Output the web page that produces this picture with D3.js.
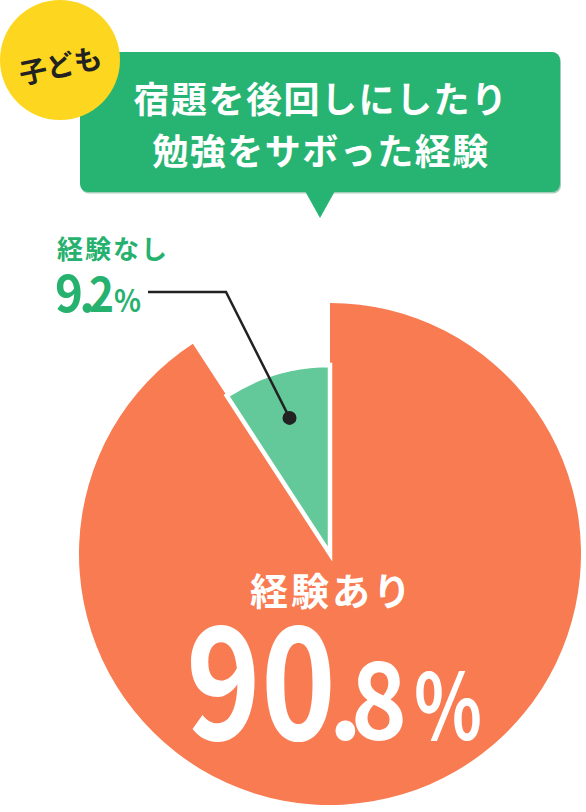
<!DOCTYPE html>
<html>

<head>
    <meta charset="utf-8">
    <style>
        body {
            margin: 0;
            background: #fff;
        }

        svg {
            display: block;
            font-family: 'Noto Sans CJK JP', 'Noto Sans', sans-serif;
            font-weight: 700;
        }
    </style>
</head>

<body>
    <svg width="586" height="812"></svg>
</body>

<script src="https://d3js.org/d3.v7.min.js"></script>

<script>
    // chart values
    let categories = ["経験あり", "経験なし"]
    let values = [90.8, 9.2]
    let valueLabels = ["90.8", "9.2"]
    let titleLines = ["宿題を後回しにしたり", "勉強をサボった経験"]
    let badgeText = "子ども"

    let width = 586
    let height = 812

    let svg = d3.select("svg")

    let cx = 330, cy = 554

    let colors = d3.scaleOrdinal()
        .domain(categories)
        .range(["#F87B52", "#63C99A"])

    // the "yes" slice is drawn bigger than the "no" slice
    let radius = d3.scaleOrdinal()
        .domain(categories)
        .range([251, 189])

    let pie = d3.pie()
        .sort(null)
        .value(d => d.value)

    let data = categories.map((c, i) => ({ name: c, value: values[i], label: valueLabels[i] }))
    let arcs = pie(data)

    let arc = d3.arc()
        .innerRadius(0)
        .outerRadius(d => radius(d.data.name))

    let pieG = svg.append("g")
        .attr("transform", `translate(${cx},${cy})`)

    pieG.selectAll("path")
        .data(arcs)
        .join("path")
        .attr("d", arc)
        .style("fill", d => colors(d.data.name))
        .style("stroke", (d, i) => i == 1 ? "#fff" : "none")
        .style("stroke-width", "4.5px")
        .style("stroke-linejoin", "miter")

    // title box with speech tail
    let box = { x: 80, y: 52, w: 480, h: 140 }

    svg.append("rect")
        .attr("x", box.x + 1)
        .attr("y", box.y + 1.5)
        .attr("width", box.w)
        .attr("height", box.h)
        .attr("rx", 8)
        .style("fill", "#4E9E78")
        .style("opacity", .5)

    svg.append("rect")
        .attr("x", box.x)
        .attr("y", box.y)
        .attr("width", box.w)
        .attr("height", box.h)
        .attr("rx", 8)
        .style("fill", "#27B473")

    svg.append("path")
        .attr("d", `M305,${box.y + box.h - 1} L335,${box.y + box.h - 1} L320,218 Z`)
        .style("fill", "#27B473")

    svg.append("g")
        .selectAll("text")
        .data(titleLines)
        .join("text")
        .attr("x", 321)
        .attr("y", (d, i) => 97 + i * 52)
        .attr("text-anchor", "middle")
        .attr("dominant-baseline", "central")
        .style("fill", "#fff")
        .style("font-size", "36px")
        .style("letter-spacing", "1.5px")
        .text(d => d)

    // badge
    svg.append("circle")
        .attr("cx", 60)
        .attr("cy", 60)
        .attr("r", 60)
        .style("fill", "#FDD61F")

    svg.append("text")
        .attr("transform", "translate(60,64) rotate(-12)")
        .attr("text-anchor", "middle")
        .attr("dominant-baseline", "central")
        .style("fill", "#222")
        .style("font-size", "28px")
        .text(badgeText)

    // a piece of a number label, fitted into a given width (no width = natural)
    function piece(txt, x, y, size, w, color) {
        let t = svg.append("text")
            .attr("x", x)
            .attr("y", y)
            .style("fill", color)
            .style("font-size", size + "px")
            .text(txt)
        if (w) {
            t.attr("textLength", w)
                .attr("lengthAdjust", "spacingAndGlyphs")
        }
    }

    // label inside big slice
    let yes = arcs[0]

    svg.append("text")
        .attr("x", 332)
        .attr("y", 588)
        .attr("text-anchor", "middle")
        .attr("dominant-baseline", "central")
        .style("fill", "#fff")
        .style("font-size", "38px")
        .style("letter-spacing", "3px")
        .text(yes.data.name)

    let bigParts = yes.data.label.split(".")
    piece(bigParts[0], 186, 740, 156, 150, "#fff")
    piece(".", 328, 740, 107, null, "#fff")
    piece(bigParts[1], 351, 740, 107, 56, "#fff")
    piece("%", 414, 740, 92, 68, "#fff")

    // small slice label + leader line
    let no = arcs[1]
    let dot = d3.arc().innerRadius(142).outerRadius(142).centroid(no)
    let dotX = cx + dot[0], dotY = cy + dot[1]

    svg.append("path")
        .attr("d", `M${dotX},${dotY} L226,292 L148,292`)
        .style("fill", "none")
        .style("stroke", "#222")
        .style("stroke-width", "2.5px")

    svg.append("circle")
        .attr("cx", dotX)
        .attr("cy", dotY)
        .attr("r", 7)
        .style("fill", "#222")

    svg.append("text")
        .attr("x", 57)
        .attr("y", 259)
        .style("fill", "#26B16F")
        .style("font-size", "26px")
        .style("letter-spacing", "2px")
        .text(no.data.name)

    let smallParts = no.data.label.split(".")
    piece(smallParts[0], 55, 312, 51, 28, "#26B16F")
    piece(".", 79, 312, 51, null, "#26B16F")
    piece(smallParts[1], 89, 312, 48, 25, "#26B16F")
    piece("%", 114, 312, 31, 27, "#26B16F")
</script>

</html>
